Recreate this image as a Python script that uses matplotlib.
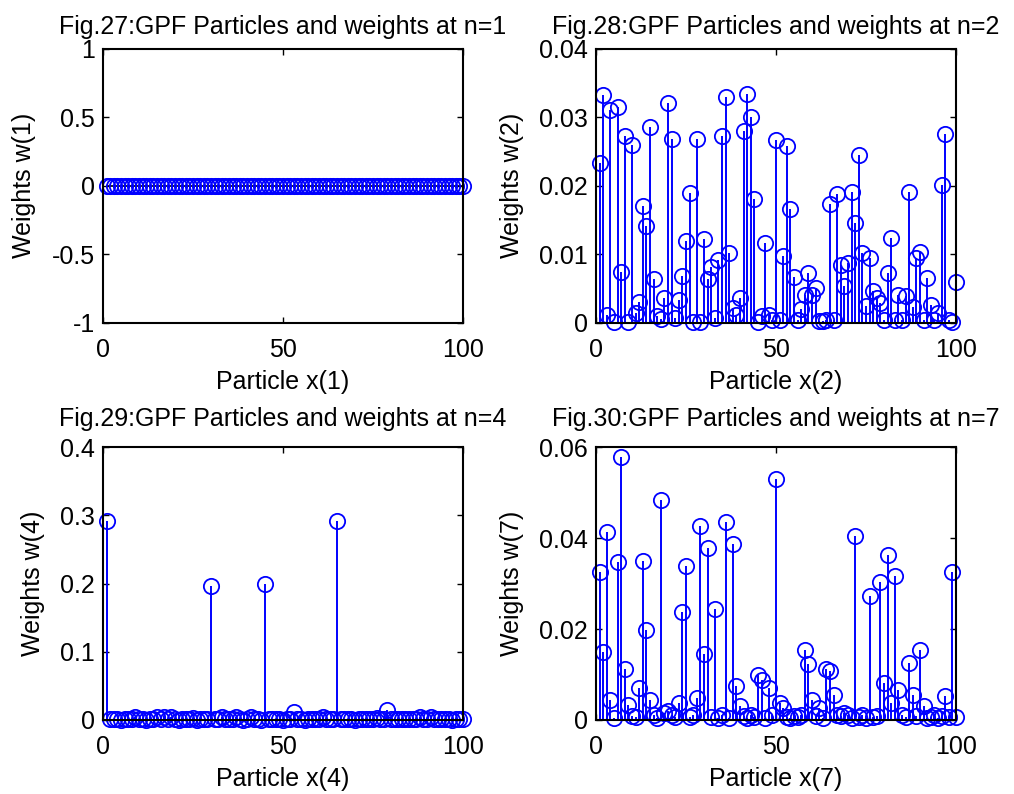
import numpy as np
import matplotlib
matplotlib.use("Agg")
from matplotlib import pyplot as plt

plt.rcParams['font.family'] = ['Liberation Sans', 'DejaVu Sans']
plt.rcParams['axes.unicode_minus'] = False

# particle index
particles = np.arange(1, 101)

# weights at n=1 (uniform start, all shown at zero)
w1 = [0.0] * 100

# weights at n=2
w2 = [0.0233, 0.0332, 0.0012, 0.0311, 0.0002, 0.0315, 0.0075, 0.0273, 0.0002, 0.0259,
      0.0015, 0.0030, 0.0171, 0.0142, 0.0286, 0.0064, 0.0010, 0.0006, 0.0036, 0.0320,
      0.0268, 0.0007, 0.0034, 0.0069, 0.0119, 0.0189, 0.0002, 0.0268, 0.0001, 0.0123,
      0.0064, 0.0082, 0.0007, 0.0092, 0.0273, 0.0329, 0.0102, 0.0022, 0.0012, 0.0036,
      0.0280, 0.0333, 0.0300, 0.0180, 0.0001, 0.0010, 0.0117, 0.0012, 0.0004, 0.0266,
      0.0004, 0.0098, 0.0258, 0.0166, 0.0067, 0.0004, 0.0020, 0.0041, 0.0073, 0.0041,
      0.0051, 0.0003, 0.0003, 0.0004, 0.0173, 0.0004, 0.0188, 0.0084, 0.0054, 0.0088,
      0.0191, 0.0145, 0.0245, 0.0102, 0.0025, 0.0095, 0.0046, 0.0036, 0.0029, 0.0004,
      0.0073, 0.0124, 0.0004, 0.0041, 0.0005, 0.0039, 0.0191, 0.0024, 0.0095, 0.0104,
      0.0004, 0.0065, 0.0026, 0.0004, 0.0014, 0.0201, 0.0275, 0.0004, 0.0002, 0.0060]

# weights at n=4
w4 = [0.292, 0.001, 0.002, 0.001, 0.0005, 0.002, 0.001, 0.001, 0.004, 0.001,
      0.002, 0.0005, 0.001, 0.002, 0.004, 0.001, 0.004, 0.002, 0.004, 0.001,
      0.0005, 0.002, 0.001, 0.001, 0.003, 0.0005, 0.001, 0.002, 0.001, 0.197,
      0.001, 0.002, 0.004, 0.001, 0.001, 0.002, 0.004, 0.001, 0.0005, 0.002,
      0.004, 0.001, 0.001, 0.0005, 0.200, 0.001, 0.002, 0.001, 0.001, 0.0005,
      0.002, 0.001, 0.011, 0.002, 0.001, 0.0005, 0.002, 0.001, 0.001, 0.001,
      0.004, 0.001, 0.001, 0.002, 0.292, 0.001, 0.002, 0.001, 0.001, 0.0005,
      0.002, 0.001, 0.001, 0.001, 0.002, 0.003, 0.001, 0.002, 0.015, 0.001,
      0.002, 0.001, 0.001, 0.002, 0.001, 0.001, 0.002, 0.004, 0.001, 0.002,
      0.004, 0.001, 0.001, 0.002, 0.001, 0.001, 0.0005, 0.001, 0.002, 0.001]

# weights at n=7
w7 = [0.0325, 0.0149, 0.0413, 0.0044, 0.0004, 0.0347, 0.0578, 0.0112, 0.0033, 0.0009,
      0.0007, 0.0070, 0.0350, 0.0198, 0.0044, 0.0010, 0.0004, 0.0483, 0.0015, 0.0020,
      0.0011, 0.0006, 0.0037, 0.0238, 0.0338, 0.0007, 0.0012, 0.0048, 0.0427, 0.0144,
      0.0377, 0.0006, 0.0245, 0.0004, 0.0010, 0.0435, 0.0004, 0.0387, 0.0074, 0.0030,
      0.0008, 0.0005, 0.0012, 0.0006, 0.0100, 0.0089, 0.0005, 0.0070, 0.0012, 0.0530,
      0.0037, 0.0026, 0.0007, 0.0004, 0.0009, 0.0006, 0.0012, 0.0153, 0.0122, 0.0044,
      0.0008, 0.0026, 0.0005, 0.0111, 0.0107, 0.0055, 0.0012, 0.0008, 0.0015, 0.0010,
      0.0005, 0.0404, 0.0007, 0.0010, 0.0004, 0.0272, 0.0006, 0.0009, 0.0303, 0.0081,
      0.0363, 0.0037, 0.0317, 0.0065, 0.0010, 0.0006, 0.0125, 0.0055, 0.0009, 0.0153,
      0.0030, 0.0005, 0.0007, 0.0012, 0.0004, 0.0009, 0.0052, 0.0007, 0.0326, 0.0007]

panels = [
    (w1, 1, 27, (-1, 1), [-1, -0.5, 0, 0.5, 1], ['-1', '-0.5', '0', '0.5', '1']),
    (w2, 2, 28, (0, 0.04), [0, 0.01, 0.02, 0.03, 0.04], ['0', '0.01', '0.02', '0.03', '0.04']),
    (w4, 4, 29, (0, 0.4), [0, 0.1, 0.2, 0.3, 0.4], ['0', '0.1', '0.2', '0.3', '0.4']),
    (w7, 7, 30, (0, 0.06), [0, 0.02, 0.04, 0.06], ['0', '0.02', '0.04', '0.06']),
]

# axes rectangles in figure fractions (left, bottom, width, height)
rects = [
    (0.1016, 0.5932, 0.3550, 0.3457),
    (0.5878, 0.5932, 0.3550, 0.3457),
    (0.1016, 0.0932, 0.3550, 0.3438),
    (0.5878, 0.0932, 0.3550, 0.3438),
]
title_pads = [10.5, 10.5, 15, 15]

fig = plt.figure(figsize=(10.14, 7.94), dpi=100)
fs = 18

for (w, n, fig_no, ylim, yticks, ylabels), rect, tpad in zip(panels, rects, title_pads):
    ax = fig.add_axes(rect)
    markerline, stemlines, baseline = ax.stem(particles, w, linefmt='b-', markerfmt='bo', basefmt='k-')
    markerline.set_markerfacecolor('none')
    markerline.set_markeredgecolor('#0000ff')
    markerline.set_markersize(11)
    markerline.set_markeredgewidth(1.3)
    markerline.set_clip_on(False)
    stemlines.set_color('#0000ff')
    stemlines.set_linewidth(1.4)
    baseline.set_linewidth(1.2)
    baseline.set_zorder(1.5)

    ax.set_xlim(0, 100)
    ax.set_ylim(*ylim)
    ax.set_xticks([0, 50, 100])
    ax.set_xticklabels(['0', '50', '100'])
    ax.set_yticks(yticks)
    ax.set_yticklabels(ylabels)
    ax.tick_params(direction='in', top=True, right=True, length=4, width=1,
                   labelsize=fs)
    ax.tick_params(axis='x', pad=10.5)
    ax.tick_params(axis='y', pad=6)
    for s in ax.spines.values():
        s.set_linewidth(1.5)

    ax.set_xlabel(f"Particle x({n})", fontsize=fs, labelpad=6)
    ax.set_ylabel(f"Weights w({n})", fontsize=fs, labelpad=11)
    ax.set_title(f"Fig.{fig_no}:GPF Particles and weights at n={n}", fontsize=fs, pad=tpad)

fig.savefig("out.png", dpi=100)
